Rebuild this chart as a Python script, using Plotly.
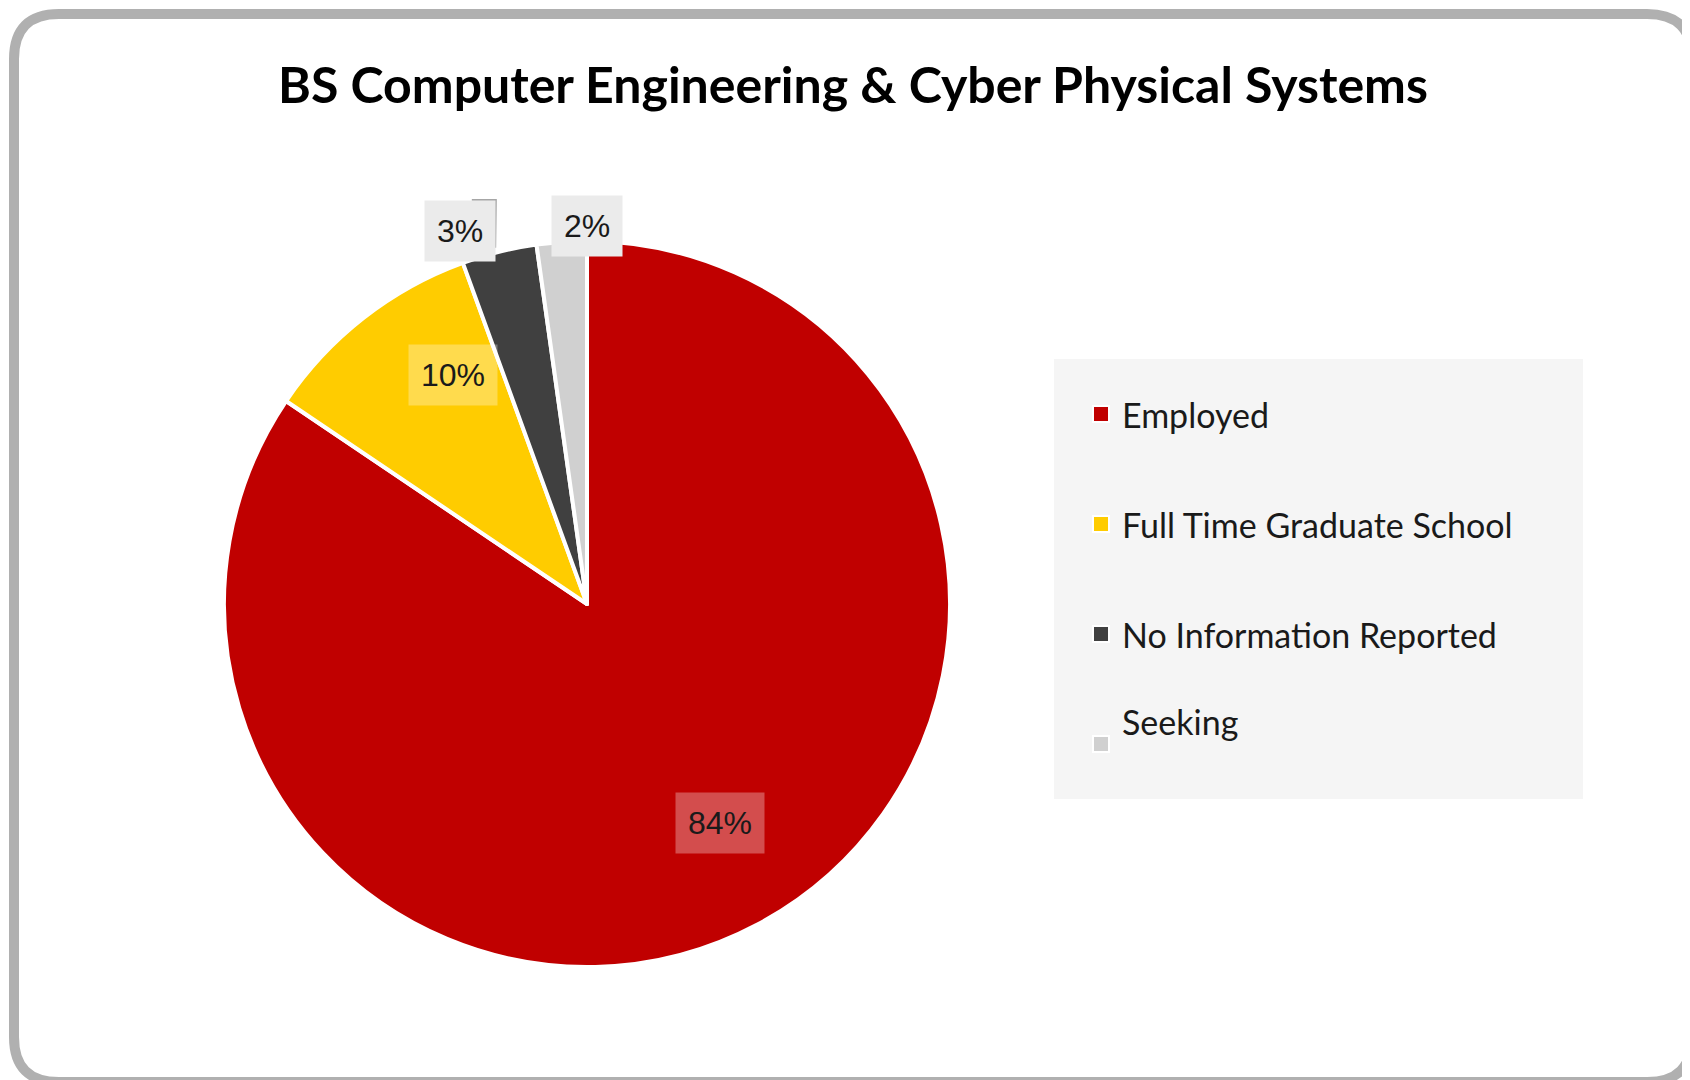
import math

import plotly.graph_objects as go

W, H = 1690, 1080

categories = ["Employed", "Full Time Graduate School", "No Information Reported", "Seeking"]
counts = [76, 9, 3, 2]
colors = ["#c00000", "#ffcc00", "#404040", "#d0d0d0"]
title = "BS Computer Engineering & Cyber Physical Systems"

# pie geometry in pixels
cx, cy, R = 579, 596, 363
label_r = [0.78, 0.80, 1.20, 1.13]
label_da = [0, 0, -8, -1]
label_bg = ["rgba(255,255,255,0.3)", "rgba(255,255,255,0.3)", "#ebebeb", "#ebebeb"]

fig = go.Figure()
fig.add_trace(go.Pie(
    labels=categories, values=counts, sort=False, direction="clockwise", rotation=0,
    marker=dict(colors=colors, line=dict(color="white", width=4)),
    textinfo="none", hoverinfo="label+percent", showlegend=False,
    domain=dict(x=[(cx - R) / W, (cx + R) / W], y=[1 - (cy + R) / H, 1 - (cy - R) / H]),
))


def px2paper(x, y):
    return x / W, 1 - y / H


total = sum(counts)
cum = 0
annotations = []
shapes = []
for i, v in enumerate(counts):
    mid = (cum + v / 2) / total * 360 + label_da[i]
    cum += v
    a = math.radians(mid)
    x = cx + math.sin(a) * R * label_r[i]
    y = cy - math.cos(a) * R * label_r[i]
    px, py = px2paper(x, y)
    annotations.append(dict(
        x=px, y=py, xref="paper", yref="paper", text=f"{round(v / total * 100)}%",
        showarrow=False, bgcolor=label_bg[i], borderpad=12,
        font=dict(family="Liberation Sans", size=32, color="#1a1a1a"),
    ))
    if i == 2:
        # leader line from label to slice edge
        ex = cx + math.sin(math.radians(mid + 8)) * R * 1.0
        ey = cy - math.cos(math.radians(mid + 8)) * R * 1.0
        x0, y0 = px2paper(x + 48, y)
        x1, y1 = px2paper(x + 72, y)
        x2, y2 = px2paper(ex - 4, ey - 4)
        shapes.append(dict(type="path", xref="paper", yref="paper",
                           path=f"M {x0} {y0} L {x1} {y1} L {x2} {y2}",
                           line=dict(color="#a6a6a6", width=2)))

# legend drawn by hand
lx0, ly0, lx1, ly1 = 1046, 351, 1575, 791
a0, b0 = px2paper(lx0, ly0)
a1, b1 = px2paper(lx1, ly1)
shapes.append(dict(type="rect", xref="paper", yref="paper", x0=a0, y0=b1, x1=a1, y1=b0,
                   fillcolor="#f5f5f5", line=dict(width=0), layer="below"))
for i, name in enumerate(categories):
    yy = 406 + i * 110
    s0x, s0y = px2paper(1085, yy - 8)
    s1x, s1y = px2paper(1101, yy + 8)
    shapes.append(dict(type="rect", xref="paper", yref="paper", x0=s0x, y0=s1y, x1=s1x, y1=s0y,
                       fillcolor=colors[i], line=dict(color="white", width=2)))
    tx, ty = px2paper(1112, yy)
    annotations.append(dict(x=tx, y=ty, xref="paper", yref="paper", text=name, showarrow=False,
                            xanchor="left", font=dict(family="Lato", size=34, color="#1a1a1a")))

# rounded border
rx, ry = 45 / W, 45 / H
ix, iy = 6 / W, 6 / H
l, r, b, t = ix, 1 - ix, iy, 1 - iy
border = (f"M {l + rx} {b} L {r - rx} {b} Q {r} {b} {r} {b + ry} L {r} {t - ry} "
          f"Q {r} {t} {r - rx} {t} L {l + rx} {t} Q {l} {t} {l} {t - ry} L {l} {b + ry} "
          f"Q {l} {b} {l + rx} {b} Z")
shapes.append(dict(type="path", xref="paper", yref="paper", path=border,
                   line=dict(color="#b0b0b0", width=10)))

fig.update_layout(
    width=W, height=H, margin=dict(l=0, r=0, t=0, b=0),
    paper_bgcolor="white", plot_bgcolor="white",
    title=dict(text=f"<b>{title}</b>", x=0.5, y=1 - 77 / H, xanchor="center", yanchor="middle",
               font=dict(family="Lato", size=50, color="black")),
    annotations=annotations, shapes=shapes,
)

fig.write_html("out.html")
